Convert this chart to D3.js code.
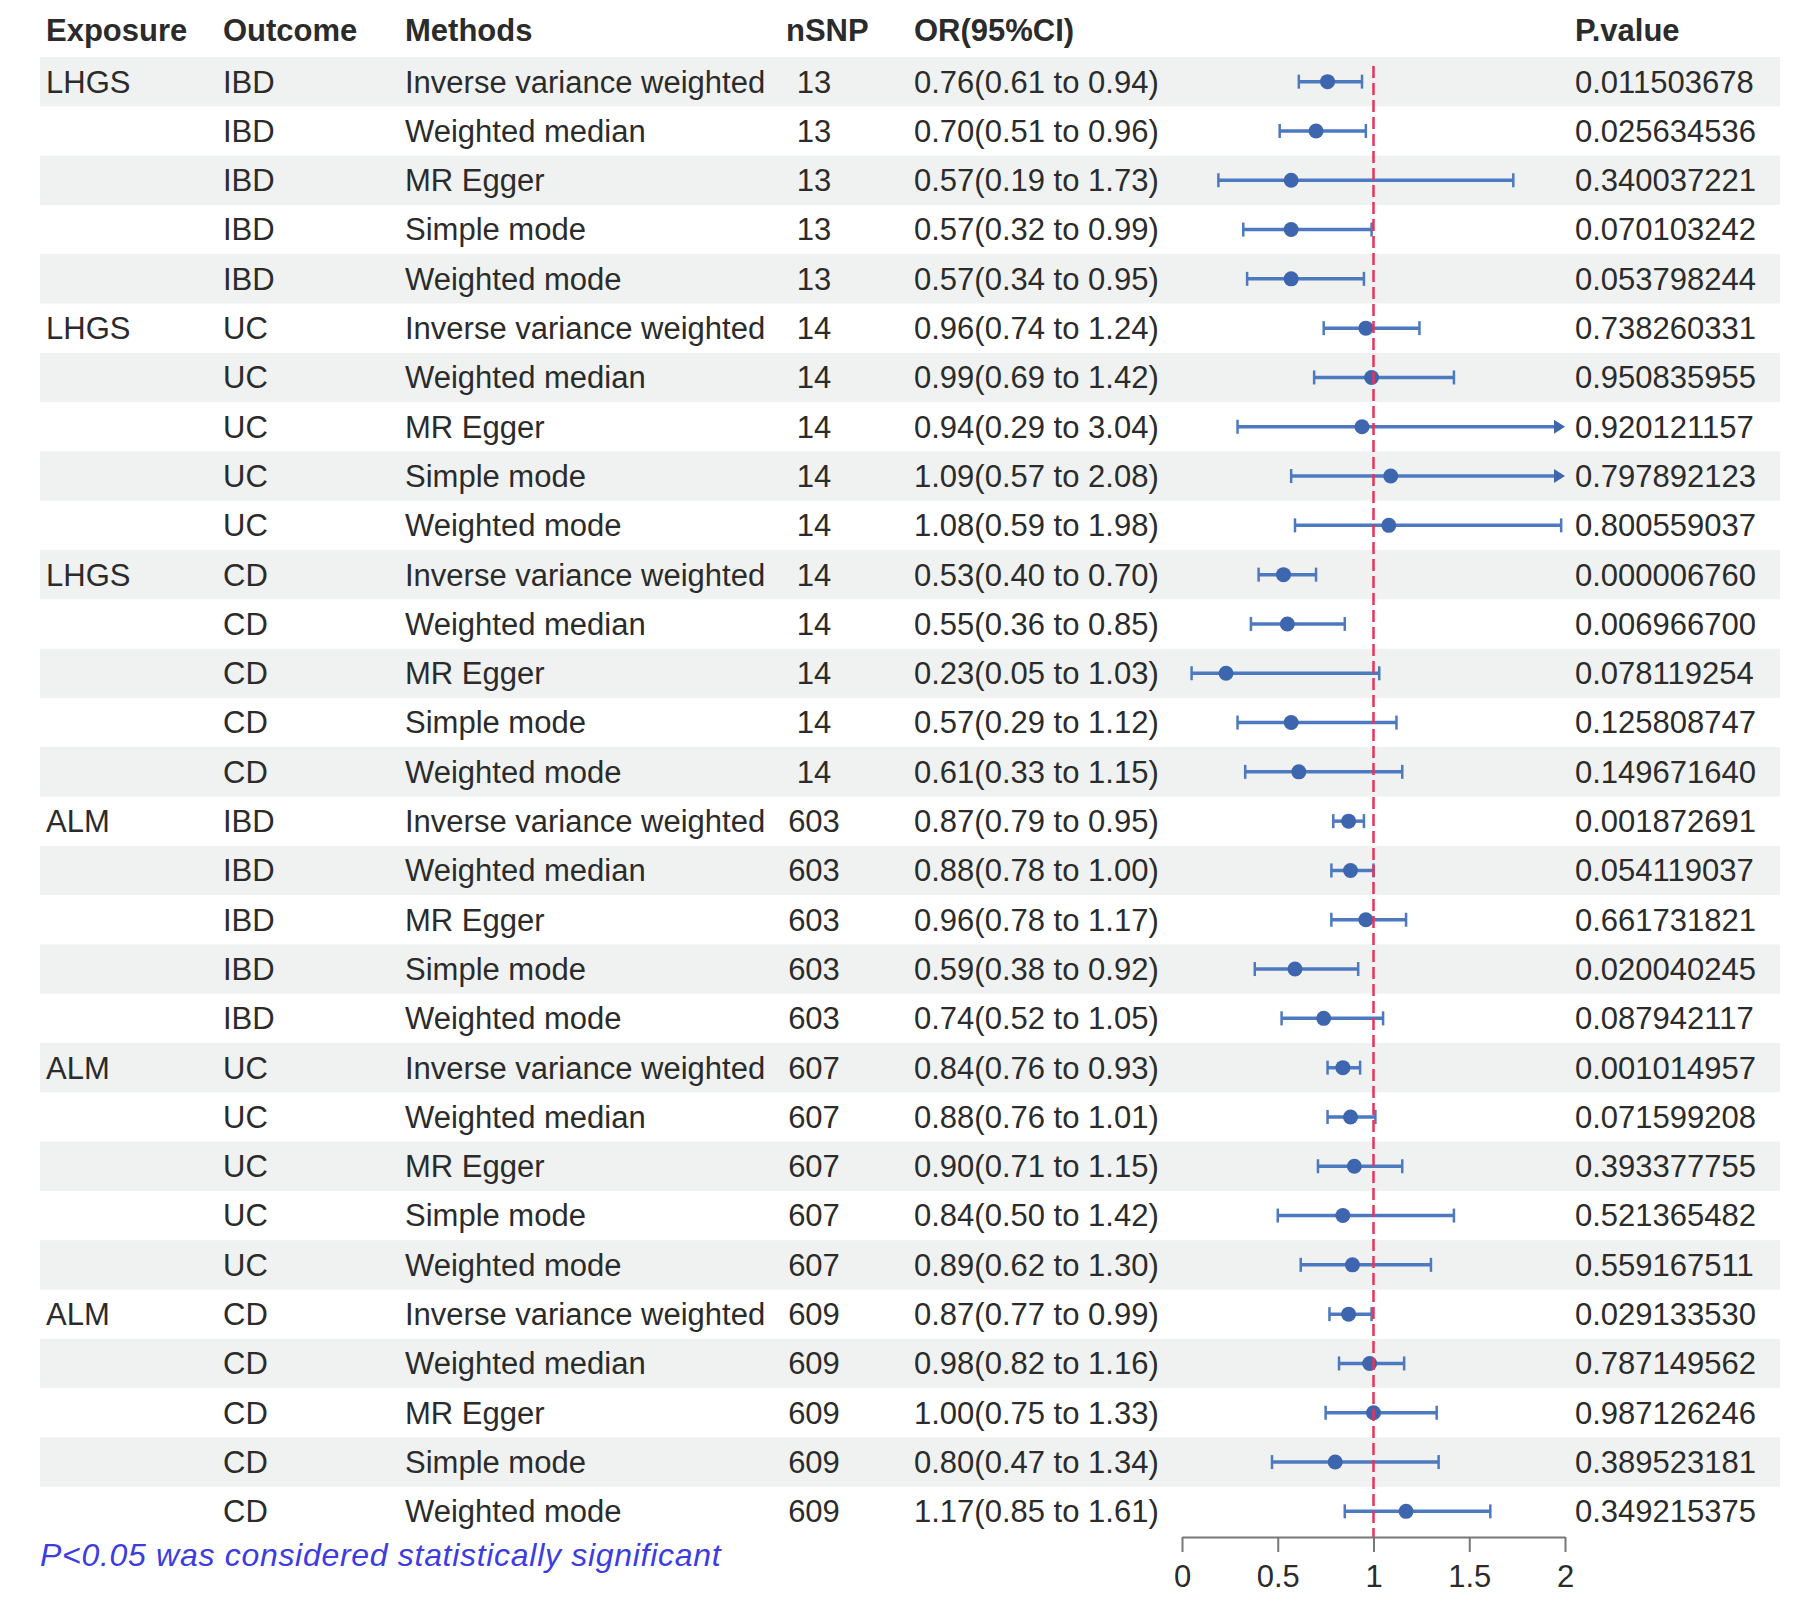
<!DOCTYPE html>
<html>
<head>
<meta charset="utf-8">
<script src="https://cdn.jsdelivr.net/npm/d3@7"></script>
<style>
  body { margin: 0; background: #fff; }
  svg text { font-family: "Liberation Sans", Arial, Helvetica, sans-serif; }
</style>
</head>
<body>
<svg id="forest" width="1797" height="1610"></svg>
<script>
// table columns
var headers = ["Exposure", "Outcome", "Methods", "nSNP", "OR(95%CI)", "P.value"];
var exposures = ["LHGS", "", "", "", "", "LHGS", "", "", "", "", "LHGS", "", "", "", "",
                 "ALM", "", "", "", "", "ALM", "", "", "", "", "ALM", "", "", "", ""];
var outcomes = ["IBD", "IBD", "IBD", "IBD", "IBD", "UC", "UC", "UC", "UC", "UC", "CD", "CD", "CD", "CD", "CD",
                "IBD", "IBD", "IBD", "IBD", "IBD", "UC", "UC", "UC", "UC", "UC", "CD", "CD", "CD", "CD", "CD"];
var methodNames = ["Inverse variance weighted", "Weighted median", "MR Egger", "Simple mode", "Weighted mode"];
var nsnp = [13, 13, 13, 13, 13, 14, 14, 14, 14, 14, 14, 14, 14, 14, 14,
            603, 603, 603, 603, 603, 607, 607, 607, 607, 607, 609, 609, 609, 609, 609];
var or = [0.76, 0.70, 0.57, 0.57, 0.57, 0.96, 0.99, 0.94, 1.09, 1.08, 0.53, 0.55, 0.23, 0.57, 0.61,
          0.87, 0.88, 0.96, 0.59, 0.74, 0.84, 0.88, 0.90, 0.84, 0.89, 0.87, 0.98, 1.00, 0.80, 1.17];
var lower = [0.61, 0.51, 0.19, 0.32, 0.34, 0.74, 0.69, 0.29, 0.57, 0.59, 0.40, 0.36, 0.05, 0.29, 0.33,
             0.79, 0.78, 0.78, 0.38, 0.52, 0.76, 0.76, 0.71, 0.50, 0.62, 0.77, 0.82, 0.75, 0.47, 0.85];
var upper = [0.94, 0.96, 1.73, 0.99, 0.95, 1.24, 1.42, 3.04, 2.08, 1.98, 0.70, 0.85, 1.03, 1.12, 1.15,
             0.95, 1.00, 1.17, 0.92, 1.05, 0.93, 1.01, 1.15, 1.42, 1.30, 0.99, 1.16, 1.33, 1.34, 1.61];
var pvalues = ["0.011503678", "0.025634536", "0.340037221", "0.070103242", "0.053798244",
               "0.738260331", "0.950835955", "0.920121157", "0.797892123", "0.800559037",
               "0.000006760", "0.006966700", "0.078119254", "0.125808747", "0.149671640",
               "0.001872691", "0.054119037", "0.661731821", "0.020040245", "0.087942117",
               "0.001014957", "0.071599208", "0.393377755", "0.521365482", "0.559167511",
               "0.029133530", "0.787149562", "0.987126246", "0.389523181", "0.349215375"];
var axisTicks = [0, 0.5, 1, 1.5, 2];
var footnote = "P<0.05 was considered statistically significant";

var rows = or.map(function (d, i) {
  return {
    exposure: exposures[i],
    outcome: outcomes[i],
    method: methodNames[i % 5],
    nsnp: nsnp[i],
    or: d, lo: lower[i], hi: upper[i],
    ci: d.toFixed(2) + "(" + lower[i].toFixed(2) + " to " + upper[i].toFixed(2) + ")",
    p: pvalues[i]
  };
});

var svg = d3.select("#forest");
svg.append("rect").attr("width", 1797).attr("height", 1610).attr("fill", "#fff");

var fontSize = 31, textColor = "#2b2b2b";

// row positions
var y = d3.scaleBand()
    .domain(d3.range(rows.length))
    .range([57, 57 + rows.length * 49.3]);
var cy = function (i) { return y(i) + y.bandwidth() / 2; };

// forest plot scale
var x = d3.scaleLinear().domain([0, 2]).range([1182, 1565]);
var axisY = 1537;

// striped background
svg.append("g").selectAll("rect")
    .data(rows)
    .enter().filter(function (d, i) { return i % 2 === 0; })
    .append("rect")
    .attr("x", 40)
    .attr("y", function (d, i) { return y(i * 2); })
    .attr("width", 1740)
    .attr("height", y.bandwidth())
    .attr("fill", "#eff2f1");

// header
var colX = [46, 223, 405, 786, 914, 1575];
svg.append("g").selectAll("text")
    .data(headers)
    .enter().append("text")
    .attr("x", function (d, i) { return colX[i]; })
    .attr("y", 30)
    .attr("dy", "0.35em")
    .attr("font-size", fontSize)
    .attr("font-weight", "bold")
    .attr("fill", textColor)
    .text(function (d) { return d; });

// table cells
var cols = [
  { key: "exposure", x: 46, anchor: "start" },
  { key: "outcome", x: 223, anchor: "start" },
  { key: "method", x: 405, anchor: "start" },
  { key: "nsnp", x: 814, anchor: "middle" },
  { key: "ci", x: 914, anchor: "start" },
  { key: "p", x: 1575, anchor: "start" }
];
var rowG = svg.append("g").selectAll("g")
    .data(rows)
    .enter().append("g")
    .attr("transform", function (d, i) { return "translate(0," + cy(i) + ")"; });

cols.forEach(function (c) {
  rowG.append("text")
      .attr("x", c.x)
      .attr("dy", "0.35em")
      .attr("text-anchor", c.anchor)
      .attr("font-size", fontSize)
      .attr("fill", textColor)
      .text(function (d) { return d[c.key]; });
});

// reference line at OR = 1
svg.append("line")
    .attr("x1", x(1)).attr("x2", x(1))
    .attr("y1", 66).attr("y2", axisY)
    .attr("stroke", "#e8335a")
    .attr("stroke-width", 2.5)
    .attr("stroke-dasharray", "12,5");

// confidence intervals
var ciColor = "#4d79c0", ptColor = "#3d66ae";
rowG.append("line")
    .attr("x1", function (d) { return x(d.lo); })
    .attr("x2", function (d) { return d.hi > 2 ? x(2) - 6 : x(d.hi); })
    .attr("stroke", ciColor)
    .attr("stroke-width", 3.5);

// lower cap
rowG.append("line")
    .attr("x1", function (d) { return x(d.lo); })
    .attr("x2", function (d) { return x(d.lo); })
    .attr("y1", -7).attr("y2", 7)
    .attr("stroke", ciColor)
    .attr("stroke-width", 2.5);

// upper cap or arrow when beyond the axis
rowG.filter(function (d) { return d.hi <= 2; }).append("line")
    .attr("x1", function (d) { return x(d.hi); })
    .attr("x2", function (d) { return x(d.hi); })
    .attr("y1", -7).attr("y2", 7)
    .attr("stroke", ciColor)
    .attr("stroke-width", 2.5);

rowG.filter(function (d) { return d.hi > 2; }).append("path")
    .attr("d", "M" + (x(2) - 11) + ",-7L" + x(2) + ",0L" + (x(2) - 11) + ",7Z")
    .attr("fill", ptColor);

// point estimates
rowG.append("circle")
    .attr("cx", function (d) { return x(d.or); })
    .attr("r", 7.5)
    .attr("fill", ptColor);

// x axis
var axis = svg.append("g")
    .attr("transform", "translate(0," + axisY + ")")
    .call(d3.axisBottom(x)
      .tickValues(axisTicks)
      .tickFormat(d3.format(""))
      .tickSize(15)
      .tickSizeOuter(0)
      .tickPadding(13));
axis.attr("font-size", fontSize).attr("font-family", null);
axis.select(".domain").attr("stroke", "#777").attr("stroke-width", 2);
axis.selectAll(".tick line").attr("stroke", "#777").attr("stroke-width", 2);
axis.selectAll(".tick text").attr("fill", textColor);

// footnote
svg.append("text")
    .attr("x", 40)
    .attr("y", 1555)
    .attr("dy", "0.35em")
    .attr("font-size", 32)
    .attr("letter-spacing", 0.7)
    .attr("font-style", "italic")
    .attr("fill", "#3c3ce0")
    .text(footnote);
</script>
</body>
</html>
